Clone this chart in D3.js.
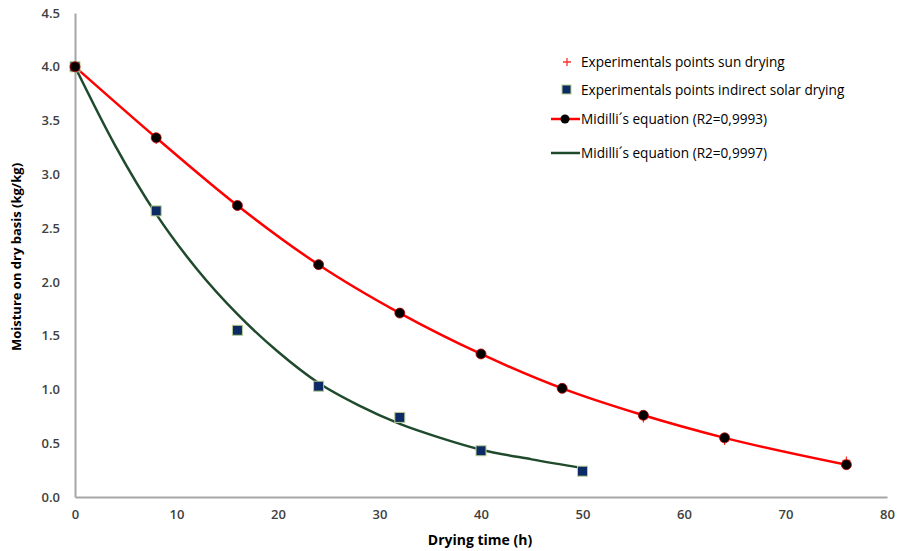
<!DOCTYPE html>
<html>
<head>
<meta charset="utf-8">
<script src="https://cdn.jsdelivr.net/npm/d3@7"></script>
<style>
  body { margin: 0; background: #fff; }
  text { font-family: "Open Sans", "Liberation Sans", sans-serif; }
</style>
</head>
<body>
<div class="chart"></div>
<script>
var width = 898;
var height = 551;

// experimental points, sun drying (crosses)
var sunTime = [0, 8, 16, 24, 32, 40, 48, 56, 64, 76];
var sunMoisture = [4.0, 3.32, 2.70, 2.17, 1.72, 1.33, 1.01, 0.73, 0.52, 0.34];

// Midilli fit for sun drying (red line with circles)
var redTime = [0, 8, 16, 24, 32, 40, 48, 56, 64, 76];
var redMoisture = [4.0, 3.34, 2.71, 2.16, 1.71, 1.33, 1.01, 0.76, 0.55, 0.30];

// experimental points, indirect solar drying (squares)
var solarTime = [0, 8, 16, 24, 32, 40, 50];
var solarMoisture = [4.0, 2.66, 1.55, 1.03, 0.74, 0.43, 0.24];

// Midilli fit for indirect solar drying (green line)
var greenTime = [0, 4, 8, 12, 16, 20, 24, 28, 32, 36, 40, 45, 50];
var greenMoisture = [4.0, 3.26, 2.63, 2.12, 1.70, 1.35, 1.06, 0.85, 0.68, 0.55, 0.44, 0.35, 0.27];

var xTicks = [0, 10, 20, 30, 40, 50, 60, 70, 80];
var yTicks = [0, 0.5, 1.0, 1.5, 2.0, 2.5, 3.0, 3.5, 4.0, 4.5];

var legendLabels = [
	'Experimentals points sun drying',
	'Experimentals points indirect solar drying',
	'Midilli\u00b4s equation (R2=0,9993)',
	'Midilli\u00b4s equation (R2=0,9997)'
];

var svg = d3.select('.chart')
	.append('svg')
	.attr('width', width)
	.attr('height', height);

var x = d3.scaleLinear().domain([0, 80]).range([75, 887]);
var y = d3.scaleLinear().domain([0, 4.5]).range([497, 13]);

// axes
var xAxis = svg.append('g')
	.attr('transform', 'translate(0,' + y(0) + ')')
	.call(d3.axisBottom(x).tickValues(xTicks).tickSize(0).tickPadding(13).tickFormat(d3.format('d')));
var yAxis = svg.append('g')
	.attr('transform', 'translate(' + x(0) + ',0)')
	.call(d3.axisLeft(y).tickValues(yTicks).tickSize(0).tickPadding(15).tickFormat(d3.format('.1f')));

[xAxis, yAxis].forEach(function(a){
	a.select('.domain').attr('stroke', '#a6a6a6').attr('stroke-width', 2);
	a.selectAll('text')
		.attr('font-size', '13px')
		.attr('font-weight', '600')
		.attr('fill', '#404040');
});

svg.append('text')
	.attr('x', 480)
	.attr('y', 545)
	.attr('text-anchor', 'middle')
	.attr('font-size', '14px')
	.attr('font-weight', 'bold')
	.text('Drying time (h)');

svg.append('text')
	.attr('transform', 'translate(21,257) rotate(-90)')
	.attr('text-anchor', 'middle')
	.attr('font-size', '13px')
	.attr('font-weight', 'bold')
	.text('Moisture on dry basis (kg/kg)');

// lines
var line = d3.line()
	.x(function(d){ return x(d[0]); })
	.y(function(d){ return y(d[1]); })
	.curve(d3.curveMonotoneX);

svg.append('path')
	.datum(d3.zip(greenTime, greenMoisture))
	.attr('d', line)
	.attr('fill', 'none')
	.attr('stroke', '#1f4a2c')
	.attr('stroke-width', 2.5);

svg.append('path')
	.datum(d3.zip(redTime, redMoisture))
	.attr('d', line)
	.attr('fill', 'none')
	.attr('stroke', '#ff0000')
	.attr('stroke-width', 2.5);

// crosses (mostly hidden under the circles)
function plus(g, cx, cy){
	g.append('path')
		.attr('d', 'M' + (cx - 4) + ',' + cy + 'H' + (cx + 4) + 'M' + cx + ',' + (cy - 4) + 'V' + (cy + 4))
		.attr('stroke', '#ff3030')
		.attr('stroke-width', 1.3);
}
var crosses = svg.append('g');
d3.zip(sunTime, sunMoisture).forEach(function(d){
	plus(crosses, x(d[0]), y(d[1]));
});

// squares
svg.selectAll('.sq')
	.data(d3.zip(solarTime, solarMoisture))
	.enter().append('rect')
	.attr('class', 'sq')
	.attr('x', function(d){ return x(d[0]) - 5; })
	.attr('y', function(d){ return y(d[1]) - 5; })
	.attr('width', 10)
	.attr('height', 10)
	.attr('fill', '#0b2a66')
	.attr('stroke', '#b9cf8c')
	.attr('stroke-width', 1);

// circles
svg.selectAll('.dot')
	.data(d3.zip(redTime, redMoisture))
	.enter().append('circle')
	.attr('class', 'dot')
	.attr('cx', function(d){ return x(d[0]); })
	.attr('cy', function(d){ return y(d[1]); })
	.attr('r', 5)
	.attr('fill', '#000')
	.attr('stroke', '#c00000')
	.attr('stroke-width', 0.8);

// legend
var leg = svg.append('g');
var legY = [62, 90, 119, 153];
plus(leg, 567, legY[0]);
leg.append('rect')
	.attr('x', 562).attr('y', legY[1] - 5)
	.attr('width', 9).attr('height', 9)
	.attr('fill', '#0b2a66')
	.attr('stroke', '#b9cf8c');
leg.append('line')
	.attr('x1', 551).attr('x2', 580)
	.attr('y1', legY[2]).attr('y2', legY[2])
	.attr('stroke', '#ff0000').attr('stroke-width', 2.5);
leg.append('circle')
	.attr('cx', 565).attr('cy', legY[2]).attr('r', 4.5)
	.attr('fill', '#000');
leg.append('line')
	.attr('x1', 551).attr('x2', 580)
	.attr('y1', legY[3]).attr('y2', legY[3])
	.attr('stroke', '#1f4a2c').attr('stroke-width', 2.5);

leg.selectAll('.lab')
	.data(legendLabels)
	.enter().append('text')
	.attr('class', 'lab')
	.attr('x', 581)
	.attr('y', function(d, i){ return legY[i] + 5; })
	.attr('font-size', '13.6px')
	.attr('fill', '#000')
	.text(function(d){ return d; });
</script>
</body>
</html>
